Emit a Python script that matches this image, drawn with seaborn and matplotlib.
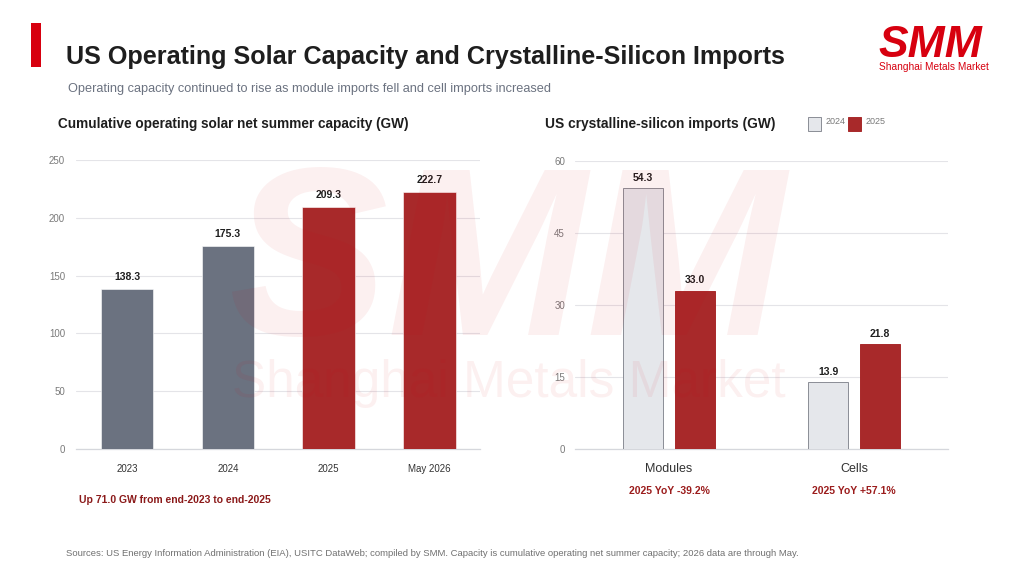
import matplotlib
matplotlib.use("Agg")
import matplotlib.pyplot as plt
from matplotlib.patches import Rectangle
import seaborn as sns
import pandas as pd

# ---- data ----
cap_years = ["2023", "2024", "2025", "May 2026"]
cap_values = [138.3, 175.3, 209.3, 222.7]
cap_colors = ["#6B7280", "#6B7280", "#A8292A", "#A8292A"]

imp_products = ["Modules", "Cells"]
imp_years = ["2024", "2025"]
imp_2024 = [54.3, 13.9]
imp_2025 = [33.0, 21.8]
imp_yoy = ["2025 YoY -39.2%", "2025 YoY +57.1%"]

W, H = 1024, 576
sns.set_theme(style="white")
plt.rcParams["font.family"] = ["Liberation Sans", "DejaVu Sans"]

fig = plt.figure(figsize=(W / 100, H / 100), dpi=100)
fig.patch.set_facecolor("white")


def fx(x):
    return x / W


def fy(y):
    return 1 - y / H


RED = "#A8292A"
GRID = "#E4E4E8"

# ---- left chart ----
axL = fig.add_axes([fx(76), fy(449), fx(480) - fx(76), fy(160) - fy(449)])
dfL = pd.DataFrame({"year": cap_years, "value": cap_values})
sns.barplot(data=dfL, x="year", y="value", hue="year", palette=cap_colors,
            width=0.52, legend=False, ax=axL, saturation=1,
            edgecolor="#FFFFFF", linewidth=0.4, zorder=3)
axL.set_ylim(0, 250)
axL.set_xlim(-0.505, 3.5)
axL.set_yticks([0, 50, 100, 150, 200, 250])
for c in axL.containers:
    axL.bar_label(c, fmt="%.1f", padding=5, fontsize=7.5, fontweight="bold", color="#1F1F1F")

# ---- right chart ----
axR = fig.add_axes([fx(575), fy(449), fx(948) - fx(575), fy(161) - fy(449)])
dfR = pd.DataFrame({
    "product": imp_products * 2,
    "year": [imp_years[0]] * 2 + [imp_years[1]] * 2,
    "value": imp_2024 + imp_2025,
})
sns.barplot(data=dfR, x="product", y="value", hue="year",
            palette={"2024": "#E5E7EB", "2025": RED}, width=0.56, gap=0.23,
            ax=axR, saturation=1, legend=False, zorder=3)
for p, edge in zip(axR.patches, ["#8A8D96"] * 2 + ["#A8292A"] * 2):
    p.set_edgecolor(edge)
    p.set_linewidth(0.7)
axR.set_ylim(0, 60)
axR.set_xlim(-0.508, 1.508)
axR.set_yticks([0, 15, 30, 45, 60])
for c in axR.containers:
    axR.bar_label(c, fmt="%.1f", padding=4, fontsize=7.5, fontweight="bold", color="#1F1F1F")

for ax, xsize, ypad in [(axL, 7, 7.8), (axR, 9, 7.2)]:
    ax.set_xlabel("")
    ax.set_ylabel("")
    for s in ["top", "right", "left"]:
        ax.spines[s].set_visible(False)
    ax.spines["bottom"].set_color("#D5D7DC")
    ax.spines["bottom"].set_linewidth(0.9)
    ax.yaxis.grid(True, color=GRID, linewidth=0.8, zorder=0)
    ax.set_axisbelow(True)
    ax.tick_params(axis="y", length=0, labelsize=7, labelcolor="#7A7A7A", pad=ypad)
    ax.tick_params(axis="x", length=0, labelsize=xsize, labelcolor="#333333", pad=11 if ax is axL else 10)
    ax.set_facecolor("none")

# ---- texts ----
fig.add_artist(Rectangle((fx(31), fy(67)), fx(10), fy(23) - fy(67), transform=fig.transFigure,
                         color="#D7000F", lw=0))
fig.text(fx(66), fy(64), "US Operating Solar Capacity and Crystalline-Silicon Imports",
         fontsize=18.1, fontweight="bold", color="#1E1E1E", va="baseline")
fig.text(fx(68), fy(92), "Operating capacity continued to rise as module imports fell and cell imports increased",
         fontsize=9.15, color="#6B7280", va="baseline")
fig.text(fx(58), fy(128), "Cumulative operating solar net summer capacity (GW)",
         fontsize=9.8, fontweight="bold", color="#1E1E1E", va="baseline")
fig.text(fx(545), fy(128), "US crystalline-silicon imports (GW)",
         fontsize=9.9, fontweight="bold", color="#1E1E1E", va="baseline")

# legend
fig.add_artist(Rectangle((fx(808), fy(131)), fx(13), fy(117) - fy(131), transform=fig.transFigure,
                         facecolor="#E5E7EB", edgecolor="#8A8D96", lw=0.7))
fig.add_artist(Rectangle((fx(848), fy(131)), fx(13), fy(117) - fy(131), transform=fig.transFigure,
                         facecolor=RED, edgecolor=RED, lw=0.7))
fig.text(fx(826), fy(124), imp_years[0], fontsize=6.5, color="#7A7A7A", va="baseline")
fig.text(fx(866), fy(124), imp_years[1], fontsize=6.5, color="#7A7A7A", va="baseline")

fig.text(fx(79), fy(503), "Up 71.0 GW from end-2023 to end-2025",
         fontsize=7.5, fontweight="bold", color="#8B1A1A", va="baseline")
for i, t in enumerate(imp_yoy):
    axR.annotate(t, xy=(i, 0), xycoords=("data", "axes fraction"), xytext=(0, -32.5),
                 textcoords="offset points", ha="center", va="baseline",
                 fontsize=7.5, fontweight="bold", color="#9B1C1C")

fig.text(fx(66), fy(556),
         "Sources: US Energy Information Administration (EIA), USITC DataWeb; compiled by SMM. "
         "Capacity is cumulative operating net summer capacity; 2026 data are through May.",
         fontsize=6.8, color="#707070", va="baseline")

# logo
fig.text(fx(878), fy(57), "SMM", fontsize=32, fontweight="heavy", style="italic",
         color="#D7000F", va="baseline")
fig.text(fx(879), fy(70), "Shanghai Metals Market", fontsize=7.3, color="#D7000F", va="baseline")

# watermark
fig.text(fx(228), fy(335), "SMM", fontsize=172, fontweight="heavy", style="italic",
         color="#D7000F", alpha=0.06, va="baseline", zorder=10)
fig.text(fx(232), fy(397), "Shanghai Metals Market", fontsize=37, color="#D7000F",
         alpha=0.06, va="baseline", zorder=10)

fig.savefig("out.png", dpi=100, facecolor="white")
